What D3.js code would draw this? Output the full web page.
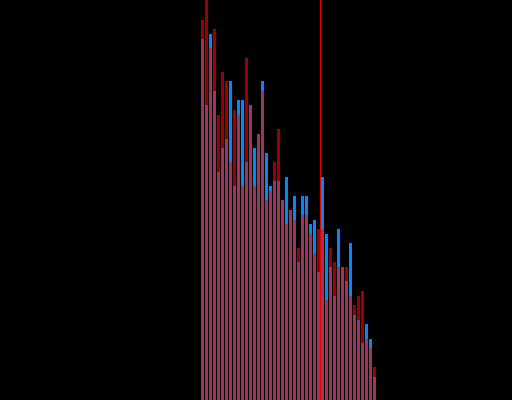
<!DOCTYPE html>
<html>
<head>
<meta charset="utf-8">
<script src="https://cdn.jsdelivr.net/npm/d3@7"></script>
<style>
  html, body { margin: 0; padding: 0; background: #000; }
  svg { display: block; }
</style>
</head>
<body>
<script>
// Bin index categories (44 histogram bins)
const bins = d3.range(44);

// Series A (blue) counts per bin
const blueValues = [90.25, 73.75, 91.5, 77.25, 57, 63, 65.25, 79.75, 53.5, 75,
  75, 59.5, 73.75, 63, 66.5, 79.75, 61.75, 53.5, 54.75, 54.75,
  50, 55.75, 47.5, 51, 34.5, 51, 51, 44, 45, 32,
  55.75, 41.5, 33.25, 26, 42.75, 33.25, 29.75, 39.25, 21.25, 20,
  14.25, 19, 15.25, 5.75];

// Series B (red) counts per bin
const redValues = [95, 100, 88, 92.75, 71.25, 82, 79.75, 59.5, 72.5, 71.25,
  53.5, 85.5, 73.75, 53.5, 66.5, 77.25, 50, 52.25, 59.5, 67.75,
  50, 44, 47.5, 45, 38, 46.25, 46.25, 41.5, 36.75, 42.75,
  42.75, 25, 38, 34.5, 33.25, 33.25, 33.25, 26, 23.75, 26,
  27.25, 15.25, 13, 8.25];

// Reference (threshold) line position in bin units
const markerValue = [29.875];

const W = 512, H = 400;
const svg = d3.select("body").append("svg")
  .attr("width", W).attr("height", H)
  .style("background", "#000");

const x = d3.scaleLinear().domain([0, bins.length]).range([201, 201 + 4 * bins.length]);
const y = d3.scaleLinear().domain([0, 100]).range([H, 0]);

// Blue series (opaque)
svg.append("g").selectAll("rect").data(bins).join("rect")
  .attr("x", d => x(d))
  .attr("y", d => y(blueValues[d]))
  .attr("width", d => x(d + 1) - x(d) - 1)
  .attr("height", d => H - y(blueValues[d]))
  .attr("fill", "#0088ff");

// Red series (semi-transparent over blue)
svg.append("g").selectAll("rect").data(bins).join("rect")
  .attr("x", d => x(d))
  .attr("y", d => y(redValues[d]))
  .attr("width", d => x(d + 1) - x(d) - 1)
  .attr("height", d => H - y(redValues[d]))
  .attr("fill", "#ff0000")
  .attr("fill-opacity", 0.62);

// Vertical marker line
svg.append("g").selectAll("line").data(markerValue).join("line")
  .attr("x1", d => Math.floor(x(d)) + 0.5)
  .attr("x2", d => Math.floor(x(d)) + 0.5)
  .attr("y1", 0).attr("y2", H)
  .attr("stroke", "#e60000")
  .attr("stroke-width", 1);
</script>
</body>
</html>
